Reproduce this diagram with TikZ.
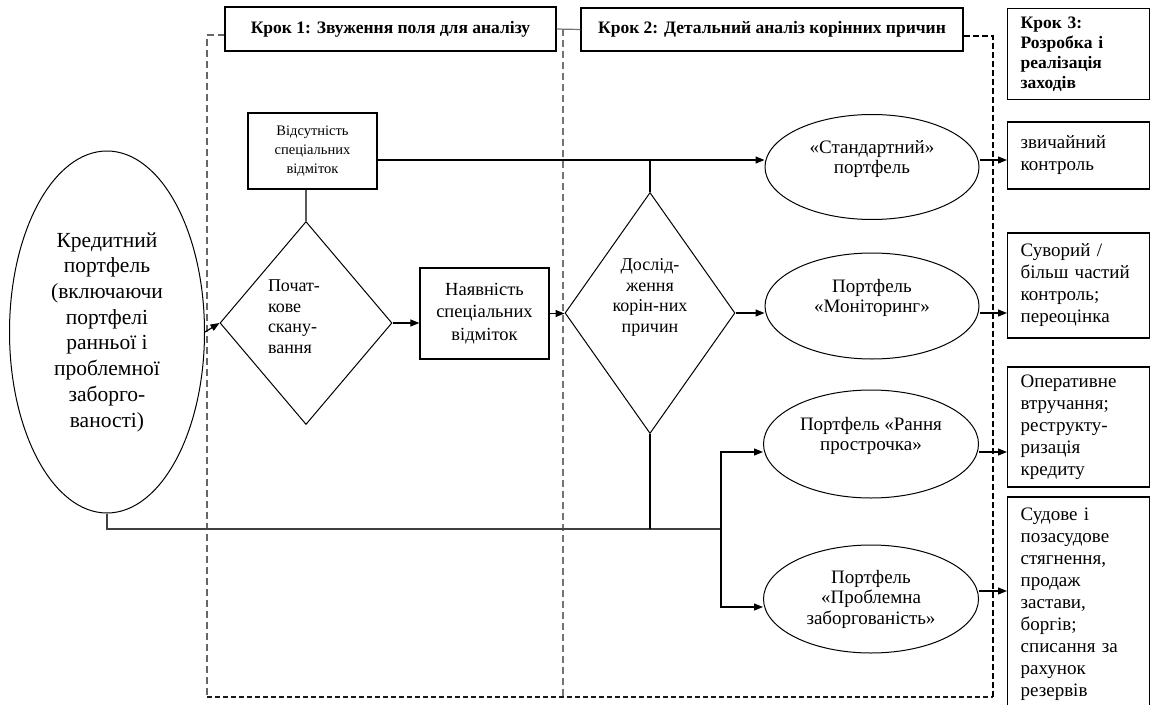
\documentclass[tikz,border=0pt]{standalone}
\usepackage{fontspec}
\setmainfont{Liberation Serif}
\usetikzlibrary{shapes.geometric,arrows.meta}
\newcommand\fsz[2]{\fontsize{#1pt}{#2pt}\selectfont}

\begin{document}
\begin{tikzpicture}[x=1pt,y=-1pt,
 line width=1.2pt,
 arr/.style={-{Triangle[length=9pt,width=7pt]}},
 hdr/.style={draw,line width=1.3pt,fill=white,inner sep=0,font=\fsz{17.5}{20}\bfseries},
 sbox/.style={draw,line width=1.3pt,inner sep=0,align=center},
 ell/.style={draw,ellipse,line width=1pt,inner sep=0,align=center,font=\fsz{19}{20.5}},
 dia/.style={draw,diamond,line width=1pt,inner sep=0,aspect=0.75},
 rbox/.style={draw,line width=1.3pt,anchor=west,minimum width=142pt,text width=116pt,inner xsep=13pt,inner ysep=0pt,align=left,font=\fsz{19}{22}},
 frm/.style={line width=1.2pt,dash pattern=on 7pt off 4pt}
]
\useasboundingbox (0,0) rectangle (1151,704);

% dashed frames
\draw[frm,black!60] (225,35) -- (207,35) -- (207,697);
\draw[frm,black!90,dash pattern=on 5pt off 3pt] (207,697) -- (993,697);
\draw[frm,black,dash pattern=on 6pt off 3pt] (993,697) -- (993,36) -- (963,36);
\draw[frm,black!55] (563,29) -- (563,697);

% headers
\node[hdr,minimum width=331pt,minimum height=44pt] (h1) at (390.5,29) {Крок 1: Звуження поля для аналізу};
\node[hdr,minimum width=382pt,minimum height=43pt] (h2) at (772,29.5) {Крок 2: Детальний аналіз корінних причин};
\node[hdr,anchor=north west,minimum width=142pt,minimum height=91pt,text width=116pt,inner xsep=13pt,align=left] (h3) at (1007,8) {Крок 3:\\Розробка і\\реалізація\\заходів};
\draw[black!55,line width=1.2pt] (h1.east) -- (h2.west);

% left ellipse
\node[draw,ellipse,line width=1pt,inner sep=0,align=center,minimum width=195pt,minimum height=362pt,font=\fsz{21.5}{25.7}] (kp) at (107,332)
 {Кредитний\\портфель\\(включаючи\\портфелі\\ранньої і\\проблемної\\заборго-\\ваності)};

% step 1
\node[sbox,minimum width=129pt,minimum height=76pt,font=\fsz{14.5}{19}] (vb) at (312.5,151) {Відсутність\\спеціальних\\відміток};
\node[dia,minimum width=172pt,minimum height=203pt,text width=76pt,align=left,font=\fsz{18}{20.5}] (d1) at (306,323) {Почат-\\кове\\скану-\\вання\\[-8pt]\mbox{}};
\node[sbox,minimum width=129pt,minimum height=91pt,font=\fsz{18.5}{22.5}] (nb) at (484.5,313.5) {Наявність\\спеціальних\\відміток};

% step 2
\node[dia,minimum width=170pt,minimum height=241pt,align=center,font=\fsz{18}{20.5}] (d2) at (650,313) {Дослід-\\ження\\корін-них\\причин\\[14pt]\mbox{}};

\node[ell,minimum width=214pt,minimum height=105pt] (e1) at (872,167) {«Стандартний»\\портфель\\\mbox{}};
\node[ell,minimum width=214pt,minimum height=106pt] (e2) at (872,306) {Портфель\\«Моніторинг»\\\mbox{}};
\node[ell,minimum width=215pt,minimum height=108pt] (e3) at (871,444) {Портфель «Рання\\прострочка»\\\mbox{}};
\node[ell,minimum width=215pt,minimum height=108pt] (e4) at (871,599) {Портфель\\«Проблемна\\заборгованість»};

% step 3 boxes
\node[rbox,minimum height=67pt] (ra) at (1007,155.5) {звичайний\\контроль};
\node[rbox,minimum height=105pt] (rb) at (1007,285.5) {Суворий /\\більш частий\\контроль;\\переоцінка};
\node[rbox,minimum height=120pt] (rc) at (1007,427) {Оперативне\\втручання;\\реструкту-\\ризація\\кредиту};
\node[rbox,minimum height=215pt] (rd) at (1007,604.5) {Судове і\\позасудове\\стягнення,\\продаж\\застави,\\боргів;\\списання за\\рахунок\\резервів};

\coordinate (j) at (721,529);
\coordinate (vbo) at ([yshift=-9pt]vb.east);

% connectors
\draw[arr] (kp.east) -- (d1.west);
\draw[arr] (d1.east) -- (d1.east -| nb.west);
\draw[arr] (nb.east) -- (nb.east -| d2.west);
\draw[black!65] (d1.north |- vb.south) -- (d1.north);
\draw[arr] (vbo) -- (vbo -| e1.west);
\draw (d2.north) -- (d2.north |- vbo);
\draw[arr] (d2.east) -- (d2.east -| e2.west);
\draw[black!75] (kp.south) |- (j);
\draw (d2.south) -- (d2.south |- j);
\draw[arr] (j) |- ([yshift=-8pt]e3.west);
\draw[arr] (j) |- ([yshift=-8pt]e4.west);

\draw[arr] ([yshift=7pt]e1.east) -- ([yshift=7pt]e1.east -| ra.west);
\draw[arr] ([yshift=-7pt]e2.east) -- ([yshift=-7pt]e2.east -| rb.west);
\draw[arr] ([yshift=-8pt]e3.east) -- ([yshift=-8pt]e3.east -| rc.west);
\draw[arr] ([yshift=8pt]e4.east) -- ([yshift=8pt]e4.east -| rd.west);
\end{tikzpicture}
\end{document}
